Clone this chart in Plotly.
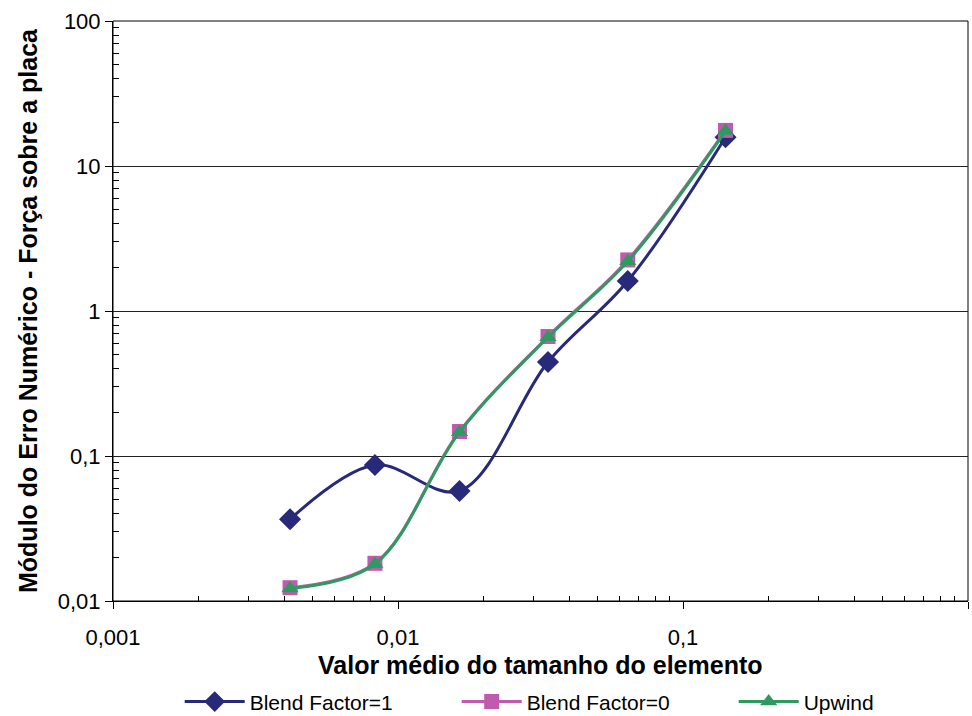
import plotly.graph_objects as go

# mean element size (x) and numerical error modulus (y)
element_size = [0.00418, 0.0083, 0.01644, 0.0336, 0.064, 0.141]
blend_1 = [0.0366, 0.0867, 0.0574, 0.445, 1.61, 15.8]
blend_0 = [0.01235, 0.0182, 0.1476, 0.667, 2.25, 17.6]
upwind = [0.0122, 0.0180, 0.146, 0.66, 2.2, 17.4]

x_tickvals = [0.001, 0.01, 0.1, 1]
x_ticktext = ["0,001", "0,01", "0,1", "1"]
y_tickvals = [0.01, 0.1, 1, 10, 100]
y_ticktext = ["0,01", "0,1", "1", "10", "100"]

font = "Liberation Sans, Arial, sans-serif"

minor_x = [m * 10 ** e for e in (-3, -2, -1) for m in range(2, 10)]
minor_y = [m * 10 ** e for e in (-2, -1, 0, 1) for m in range(2, 10)]

fig = go.Figure()

series = [
    ("Blend Factor=1", blend_1, "#29297A", "diamond", 17),
    ("Blend Factor=0", blend_0, "#C05AAE", "square", 15),
    ("Upwind", upwind, "#2E9A60", "triangle-up", 15),
]
for name, vals, color, symbol, size in series:
    fig.add_trace(go.Scatter(
        x=element_size, y=vals, name=name,
        mode="lines+markers",
        line=dict(color=color, width=3, shape="spline", smoothing=1.0),
        marker=dict(symbol=symbol, size=size, color=color),
    ))

fig.update_layout(
    width=972, height=716,
    margin=dict(l=113, r=4, t=21, b=115, autoexpand=False),
    paper_bgcolor="white", plot_bgcolor="white",
    font=dict(family=font, size=22, color="black"),
    showlegend=True,
    legend=dict(orientation="h", x=0.078, xanchor="left", y=-0.174,
                yanchor="middle", font=dict(size=21), itemwidth=60,
                entrywidthmode="pixels", entrywidth=202),
)

fig.update_xaxes(
    type="log", range=[-3, 0], automargin=False,
    tickmode="array", tickvals=x_tickvals, ticktext=x_ticktext,
    showgrid=False, showline=True, linecolor="black", linewidth=1,
    ticks="outside", ticklen=7, tickcolor="black", ticklabelstandoff=10,
    minor=dict(tickmode="array", tickvals=minor_x, ticks="inside",
               ticklen=5, tickcolor="black", showgrid=False),
    zeroline=False,
)
fig.update_yaxes(
    type="log", range=[-2, 2], automargin=False,
    tickmode="array", tickvals=y_tickvals, ticktext=y_ticktext,
    showgrid=True, gridcolor="#222222", gridwidth=1,
    showline=True, linecolor="black", linewidth=1,
    ticks="outside", ticklen=7, tickcolor="black",
    minor=dict(tickmode="array", tickvals=minor_y, ticks="inside",
               ticklen=6, tickcolor="black", showgrid=False),
    zeroline=False,
)

# axis titles
fig.add_annotation(text="<b>Valor médio do tamanho do elemento</b>",
                   xref="paper", yref="paper", x=0.5, y=-0.1103,
                   xanchor="center", yanchor="middle", showarrow=False,
                   font=dict(size=25))
fig.add_annotation(text="<b>Módulo do Erro Numérico - Força sobre a placa</b>",
                   xref="paper", yref="paper", x=-0.0994, y=0.5,
                   xanchor="center", yanchor="middle", textangle=-90,
                   showarrow=False, font=dict(size=25))

# plot frame
fig.add_shape(type="rect", xref="paper", yref="paper", x0=0, x1=1, y0=0, y1=1,
              line=dict(color="black", width=1), layer="below")

# drop the default page margin so the figure fills the window
fig.write_html("out.html", config={"displayModeBar": False},
               post_script="document.body.style.margin='0';")
